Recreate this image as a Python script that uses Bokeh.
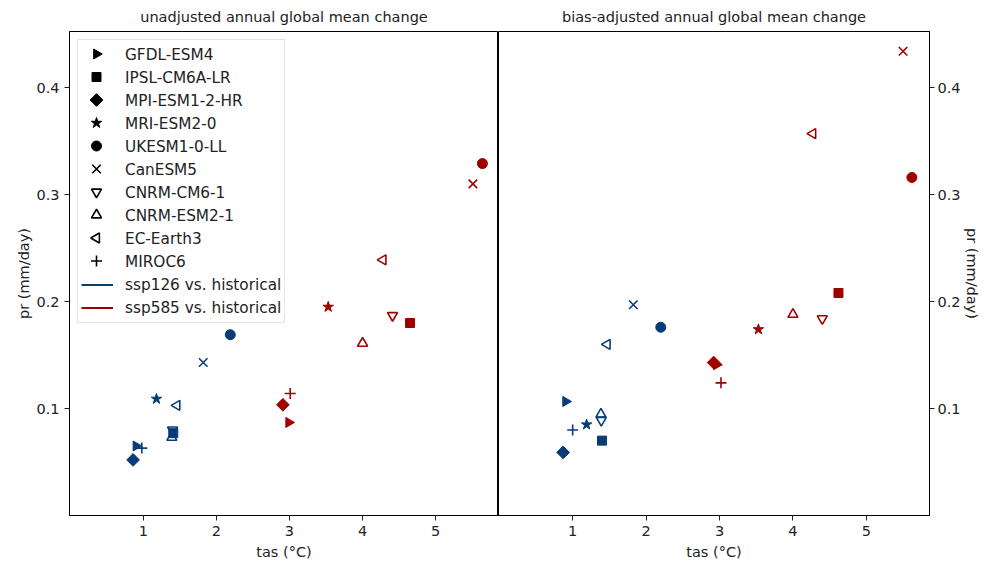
import math
from bokeh.plotting import figure
from bokeh.layouts import row
from bokeh.models import ColumnDataSource, Range1d, Legend, LegendItem, FixedTicker
from bokeh.embed import file_html
from bokeh.resources import INLINE

models = ["GFDL-ESM4", "IPSL-CM6A-LR", "MPI-ESM1-2-HR", "MRI-ESM2-0", "UKESM1-0-LL",
          "CanESM5", "CNRM-CM6-1", "CNRM-ESM2-1", "EC-Earth3", "MIROC6"]

# unadjusted
raw_tas_126 = [0.90, 1.41, 0.86, 1.18, 2.19, 1.82, 1.40, 1.39, 1.46, 0.98]
raw_pr_126 = [0.065, 0.077, 0.052, 0.109, 0.169, 0.143, 0.080, 0.073, 0.103, 0.063]
raw_tas_585 = [2.99, 4.65, 2.91, 3.53, 5.64, 5.51, 4.41, 4.00, 4.28, 3.01]
raw_pr_585 = [0.087, 0.180, 0.1035, 0.195, 0.329, 0.310, 0.187, 0.161, 0.239, 0.114]

# bias-adjusted
adj_tas_126 = [0.905, 1.40, 0.87, 1.19, 2.20, 1.826, 1.39, 1.385, 1.47, 1.00]
adj_pr_126 = [0.1066, 0.070, 0.059, 0.085, 0.176, 0.197, 0.089, 0.0947, 0.160, 0.080]
adj_tas_585 = [2.96, 4.62, 2.92, 3.53, 5.62, 5.50, 4.40, 4.00, 4.27, 3.02]
adj_pr_585 = [0.141, 0.208, 0.143, 0.174, 0.316, 0.434, 0.184, 0.188, 0.357, 0.124]

scenario_labels = ["ssp126 vs. historical", "ssp585 vs. historical"]
x_ticks = [1, 2, 3, 4, 5]
y_ticks = [0.1, 0.2, 0.3, 0.4]

BLUE = "#073c76"
RED = "#9e0000"
FONT = "DejaVu Sans"
FS = "14.5px"
LFS = "15.3px"
TXT = "#222222"

# marker style per model: (marker, angle, filled, size)
styles = {
    "GFDL-ESM4": ("triangle", -math.pi / 2, True, 10),
    "IPSL-CM6A-LR": ("square", 0.0, True, 9),
    "MPI-ESM1-2-HR": ("square", math.pi / 4, True, 9),
    "MRI-ESM2-0": ("star", 0.0, True, 11),
    "UKESM1-0-LL": ("circle", 0.0, True, 10),
    "CanESM5": ("x", 0.0, False, 12),
    "CNRM-CM6-1": ("triangle", math.pi, False, 10),
    "CNRM-ESM2-1": ("triangle", 0.0, False, 10),
    "EC-Earth3": ("triangle", math.pi / 2, False, 10),
    "MIROC6": ("cross", 0.0, False, 11),
}

XR = (-0.01, 5.86)
YR = (0.0, 0.4525)

# layout constants
H = 562
TOP, BOTTOM = 31, 47
LEFT_W, RIGHT_W = 498, 486
LEFT_B, RIGHT_B = 69, 55


def style_axes(p, left):
    for ax in p.axis:
        ax.major_label_text_font = FONT
        ax.major_label_text_font_size = FS
        ax.major_label_text_color = TXT
        ax.axis_label_text_font = FONT
        ax.axis_label_text_font_size = FS
        ax.axis_label_text_font_style = "normal"
        ax.axis_label_text_color = TXT
        ax.major_tick_in = 0
        ax.major_tick_out = 5
        ax.minor_tick_line_color = None
        ax.axis_line_color = "black"
        ax.major_tick_line_color = TXT
    p.yaxis.major_label_standoff = 5 if left else 3
    p.yaxis.axis_label_standoff = 1 if left else 0
    p.xaxis.major_label_standoff = 5
    p.xaxis.axis_label_standoff = 5


def make_fig(title, tas126, pr126, tas585, pr585, left):
    p = figure(width=LEFT_W if left else RIGHT_W, height=H,
               x_range=Range1d(*XR), y_range=Range1d(*YR),
               output_backend="svg", toolbar_location=None,
               y_axis_location="left" if left else "right",
               min_border_left=LEFT_B if left else 0,
               min_border_right=0 if left else RIGHT_B,
               min_border_top=TOP, min_border_bottom=BOTTOM)
    p.title.text = title
    p.title.align = "center"
    p.title.text_font = FONT
    p.title.text_font_size = FS
    p.title.text_font_style = "normal"
    p.title.text_color = TXT
    p.title.standoff = 13
    p.xgrid.visible = False
    p.ygrid.visible = False
    p.outline_line_color = "black"
    p.outline_line_alpha = 1.0
    p.background_fill_color = "white"
    p.border_fill_color = "white"
    p.xaxis.ticker = FixedTicker(ticks=x_ticks)
    p.yaxis.ticker = FixedTicker(ticks=y_ticks)
    p.xaxis.axis_label = "tas (°C)"
    p.yaxis.axis_label = "pr (mm/day)"
    style_axes(p, left)

    for i, m in enumerate(models):
        mk, ang, filled, sz = styles[m]
        for tas, pr, col in ((tas126, pr126, BLUE), (tas585, pr585, RED)):
            src = ColumnDataSource(dict(x=[tas[i]], y=[pr[i]]))
            p.scatter("x", "y", source=src, marker=mk, angle=ang, size=sz,
                      line_color=col, line_width=1.6 if not filled else 1,
                      fill_color=col if filled else None)
    return p


p1 = make_fig("unadjusted annual global mean change",
              raw_tas_126, raw_pr_126, raw_tas_585, raw_pr_585, True)
p2 = make_fig("bias-adjusted annual global mean change",
              adj_tas_126, adj_pr_126, adj_tas_585, adj_pr_585, False)

# ---- legend: Bokeh Legend for box, labels and lines ----
LEG_MARGIN, LEG_PAD, ROW_H, GLYPH_W = 8, 3, 23, 32
nan = float("nan")
items = []
for m in models:
    # invisible proxy (legend markers are drawn below, rotated where needed)
    r = p1.scatter("x", "y", source=ColumnDataSource(dict(x=[nan], y=[nan])),
                   marker="circle", size=1, line_alpha=0, fill_alpha=0)
    items.append(LegendItem(label=m, renderers=[r]))
for lab, col in zip(scenario_labels, (BLUE, RED)):
    r = p1.line("x", "y", source=ColumnDataSource(dict(x=[nan], y=[nan])),
                line_color=col, line_width=2)
    items.append(LegendItem(label=lab, renderers=[r]))

leg = Legend(items=items, location="top_left", margin=LEG_MARGIN, padding=LEG_PAD,
             spacing=0, label_height=ROW_H, glyph_height=ROW_H, glyph_width=GLYPH_W,
             label_standoff=12, label_text_font=FONT, label_text_font_size=LFS,
             label_text_color=TXT,
             border_line_color="#cccccc", border_line_width=1,
             background_fill_alpha=0.0)
p1.add_layout(leg)

# legend markers, placed in frame-pixel coordinates (Bokeh legends ignore marker angles)
frame_w = LEFT_W - LEFT_B
frame_h = H - TOP - BOTTOM
p1.extra_x_ranges = {"lg": Range1d(0, frame_w)}
p1.extra_y_ranges = {"lg": Range1d(frame_h, 0)}
lg = dict(x=[], y=[], marker=[], angle=[], size=[], fa=[], lw=[])
for i, m in enumerate(models):
    mk, ang, filled, sz = styles[m]
    lg["x"].append(LEG_MARGIN + LEG_PAD + GLYPH_W / 2)
    lg["y"].append(LEG_MARGIN + LEG_PAD + ROW_H / 2 + ROW_H * i)
    lg["marker"].append(mk)
    lg["angle"].append(ang)
    lg["size"].append(sz)
    lg["fa"].append(1.0 if filled else 0.0)
    lg["lw"].append(1.0 if filled else 1.6)
p1.scatter("x", "y", source=ColumnDataSource(lg), marker="marker", angle="angle",
           size="size", fill_color="black", fill_alpha="fa", line_color="black",
           line_width="lw", x_range_name="lg", y_range_name="lg", level="overlay")

layout = row(p1, p2, spacing=0)
open("out.html", "w").write(file_html(layout, INLINE))
